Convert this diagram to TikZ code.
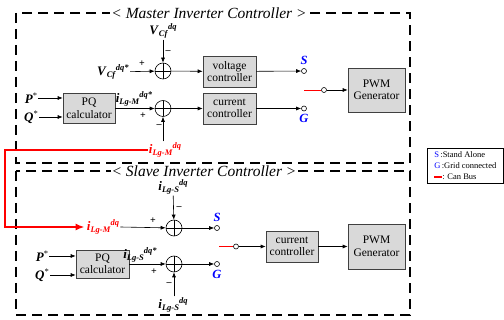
\documentclass[tikz,border=0pt]{standalone}
\usepackage{fontspec}
\setmainfont{Liberation Serif}
\usetikzlibrary{arrows.meta,positioning}

\newcommand{\subsz}{\fontsize{8.5}{8.5}\selectfont}
\newcommand{\sig}[3]{\textbf{\textit{#1}}\raisebox{-0.35ex}{\subsz\textbf{\textit{#2}}}\raisebox{0.8ex}{\subsz\textbf{\textit{#3}}}}
\newcommand{\setp}[1]{\textbf{\textit{#1}}\raisebox{0.9ex}{\subsz *}}

\tikzset{
  block/.style={draw=black!75, fill=gray!30, align=center, inner sep=1pt,
    minimum width=53pt, minimum height=31pt, font=\fontsize{11.5}{12.5}\selectfont},
  sumnode/.style={circle, draw, minimum size=16pt, inner sep=0pt,
    path picture={\draw (path picture bounding box.north) -- (path picture bounding box.south)
      (path picture bounding box.west) -- (path picture bounding box.east);}},
  term/.style={circle, draw, fill=white, inner sep=0pt, minimum size=5pt},
  siglabel/.style={font=\fontsize{13}{13}\selectfont, inner sep=1pt},
  sgn/.style={font=\fontsize{10}{10}\selectfont\bfseries, inner sep=0pt},
  swlabel/.style={font=\fontsize{12.5}{12.5}\selectfont\bfseries\itshape, text=blue, inner sep=0pt},
  frame/.style={draw, line width=1.8pt, dash pattern=on 10pt off 6pt},
  title/.style={fill=white, font=\fontsize{15.5}{15.5}\selectfont\itshape, inner sep=1pt},
  canbus/.style={red, line width=2.6pt},
  blade/.style={red, line width=0.8pt},
}

\begin{document}
\begin{tikzpicture}[x=1pt, y=-1pt, line width=0.6pt, >={Latex[length=5pt,width=4pt]}]
    \useasboundingbox (0,0) rectangle (504,320);

    % Frames
    \draw[frame] (16,13) rectangle (410,163);
    \draw[frame] (16,171) rectangle (410,315);
    \node[title] (mtitle) at (209,13) {< Master Inverter Controller >};
    \node[title] (stitle) at (204,171) {< Slave Inverter Controller >};

    % Master inverter controller
    \node[siglabel] (mvref) at (163,31) {\sig{V}{Cf}{dq}};
    \node[sumnode] (msum1) at (163,71) {};
    \node[siglabel] (mvstar) at (113,72) {\sig{V}{Cf}{dq*}};
    \node[block] (mvc) at (229.5,71.5) {voltage\\controller};
    \node[term] (mS) at (304,71) {};
    \node[swlabel, above=3pt of mS] (mSl) {S};
    \node[sgn] at (142,64) {+};
    \node[sgn] at (168,52) {–};

    \node[block, minimum width=52pt, minimum height=30pt] (mpq) at (89,108.5) {PQ\\calculator};
    \node[siglabel] (mP) at (31,98) {\setp{P}};
    \node[siglabel] (mQ) at (31,117) {\setp{Q}};
    \node[sumnode] (msum2) at (163,108.5) {};
    \node[siglabel] (mLgMs) at (134,99) {\sig{i}{Lg-M}{dq*}};
    \node[block] (mcc) at (229.5,108.5) {current\\controller};
    \node[term] (mG) at (304,108.5) {};
    \node[swlabel, below=3pt of mG] (mGl) {G};
    \node[sgn] at (143,116) {+};
    \node[sgn] at (159,126) {–};
    \node[siglabel, text=red] (mLgM) at (165,150) {\sig{i}{Lg-M}{dq}};

    \node[term] (msw) at (324,90) {};
    \coordinate (mfree) at (304,90);
    \node[block, minimum width=57pt, minimum height=44pt] (mpwm) at (376.5,90) {PWM\\Generator};

    \draw[->] (mvref) -- (msum1);
    \draw[->] (mvstar) -- (msum1);
    \draw[->] (msum1) -- (mvc);
    \draw[->] (mvc) -- (mS);
    \draw[->] (mP.east) -- (mP.east -| mpq.west);
    \draw[->] (mQ.east) -- (mQ.east -| mpq.west);
    \draw[->] (mpq) -- (msum2);
    \draw[->] (mLgM.north -| msum2) -- (msum2);
    \draw[->] (msum2) -- (mcc);
    \draw[->] (mcc) -- (mG);
    \draw[blade] (mfree) -- (msw);
    \draw[->] (msw) -- (mpwm);

    % Slave inverter controller
    \node[siglabel] (sLgSt) at (173,187) {\sig{i}{Lg-S}{dq}};
    \node[sumnode] (ssum1) at (174,228) {};
    \node[siglabel, text=red] (sLgM) at (103,227) {\sig{i}{Lg-M}{dq}};
    \node[term] (sS) at (217,228) {};
    \node[swlabel, above=3pt of sS] (sSl) {S};
    \node[sgn] at (153,221) {+};
    \node[sgn] at (179,208) {–};

    \node[block, minimum height=28pt] (spq) at (102.5,264) {PQ\\calculator};
    \node[siglabel] (sP) at (42,256) {\setp{P}};
    \node[siglabel] (sQ) at (42,275) {\setp{Q}};
    \node[sumnode] (ssum2) at (174,264) {};
    \node[siglabel] (sLgSs) at (140,255) {\sig{i}{Lg-S}{dq*}};
    \node[siglabel] (sLgSb) at (173,305) {\sig{i}{Lg-S}{dq}};
    \node[term] (sG) at (217,264) {};
    \node[swlabel, below=3pt of sG] (sGl) {G};
    \node[sgn] at (154,272) {+};
    \node[sgn] at (169,284) {–};

    \node[term] (ssw) at (236,246.5) {};
    \coordinate (sfree) at (219,246.5);
    \node[block, minimum width=52pt] (scc) at (292,246.5) {current\\controller};
    \node[block, minimum width=57pt, minimum height=45pt] (spwm) at (376.5,246.5) {PWM\\Generator};

    \draw[->] (sLgSt) -- (ssum1);
    \draw[->] (sLgM.east) -- (ssum1);
    \draw[->] (ssum1) -- (sS);
    \draw[->] (sP.east) -- (sP.east -| spq.west);
    \draw[->] (sQ.east) -- (sQ.east -| spq.west);
    \draw[->] (spq) -- (ssum2);
    \draw[->] (sLgSb.north -| ssum2) -- (ssum2);
    \draw[->] (ssum2) -- (sG);
    \draw[blade] (sfree) -- (ssw);
    \draw[->] (ssw) -- (scc);
    \draw[->] (scc) -- (spwm);

    % Can bus
    \coordinate (cbx) at (5,0);
    \draw[canbus, -{Latex[length=9pt,width=7pt]}, shorten >=1pt]
        (mLgM.west) -- (mLgM.west -| cbx) |- (sLgM.west);

    % Legend
    \node[draw, anchor=north west, align=left, inner xsep=4pt, inner ysep=2pt,
          minimum width=76pt, minimum height=35pt, font=\fontsize{8.5}{11}\selectfont] (legend) at (427,148)
        {\textcolor{blue}{S}\,:Stand Alone\\
         \textcolor{blue}{G}\,:Grid connected\\
         \textcolor{red}{\rule[2pt]{8pt}{2pt}}: Can Bus};
\end{tikzpicture}
\end{document}
